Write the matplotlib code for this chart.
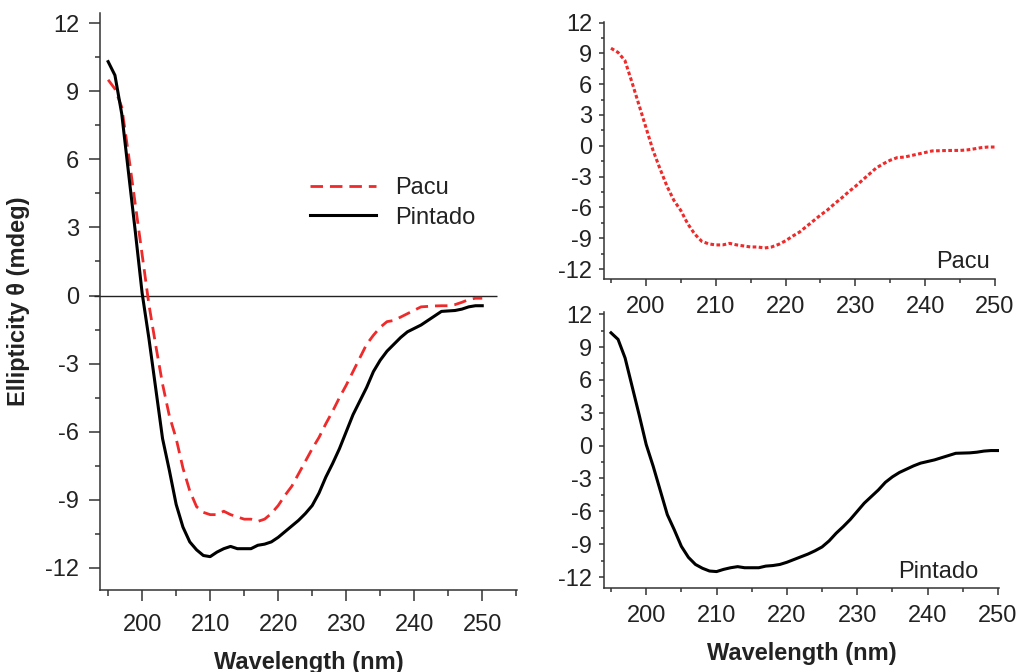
import matplotlib
matplotlib.use("Agg")
import matplotlib.pyplot as plt
from matplotlib.ticker import MultipleLocator

plt.rcParams['font.family'] = ['Liberation Sans', 'DejaVu Sans']
plt.rcParams['axes.unicode_minus'] = False

# CD spectra, 1 nm steps
wavelength = list(range(195, 251))
pacu = [9.5, 9.1, 8.3, 6.2, 4.0, 1.8, -0.4, -2.2, -3.9, -5.3,
        -6.3, -7.6, -8.6, -9.3, -9.55, -9.65, -9.65, -9.5, -9.65, -9.75,
        -9.85, -9.85, -9.95, -9.85, -9.6, -9.25, -8.8, -8.4, -7.85, -7.3,
        -6.75, -6.25, -5.65, -5.1, -4.5, -3.95, -3.35, -2.75, -2.15, -1.75,
        -1.4, -1.15, -1.1, -0.95, -0.8, -0.65, -0.5, -0.48, -0.46, -0.45,
        -0.45, -0.4, -0.3, -0.18, -0.12, -0.12]
pintado = [10.3, 9.7, 8.0, 5.4, 2.8, 0.1, -1.9, -4.1, -6.3, -7.7,
           -9.2, -10.2, -10.85, -11.2, -11.45, -11.5, -11.3, -11.15, -11.05, -11.15,
           -11.15, -11.15, -11.0, -10.95, -10.85, -10.65, -10.4, -10.15, -9.9, -9.6,
           -9.25, -8.7, -8.0, -7.4, -6.75, -6.0, -5.25, -4.65, -4.05, -3.35,
           -2.85, -2.45, -2.15, -1.85, -1.6, -1.45, -1.3, -1.1, -0.9, -0.7,
           -0.68, -0.66, -0.6, -0.5, -0.45, -0.45]

RED = '#ee2a2a'
INK = '#222222'
yticks = [-12, -9, -6, -3, 0, 3, 6, 9, 12]
xticks = [200, 210, 220, 230, 240, 250]


def style(ax, ymaj, ymin, xmaj, xmin, ypad, xpad):
    ax.set_facecolor('none')
    for s in ['top', 'right']:
        ax.spines[s].set_visible(False)
    for s in ['left', 'bottom']:
        ax.spines[s].set_linewidth(1.1)
        ax.spines[s].set_color('#333333')
    ax.set_yticks(yticks)
    ax.set_xticks(xticks)
    ax.yaxis.set_minor_locator(MultipleLocator(1.5))
    ax.xaxis.set_minor_locator(MultipleLocator(5))
    ax.tick_params(axis='y', which='major', length=ymaj, width=1.1, pad=ypad,
                   labelsize=17, colors='#333333', labelcolor=INK)
    ax.tick_params(axis='y', which='minor', length=ymin, width=1.1, colors='#333333')
    ax.tick_params(axis='x', which='major', length=xmaj, width=1.1, pad=xpad,
                   labelsize=17, colors='#333333', labelcolor=INK)
    ax.tick_params(axis='x', which='minor', length=xmin, width=1.1, colors='#333333')


fig = plt.figure(figsize=(10.17, 6.72), dpi=100)

# main panel
ax = fig.add_axes([0.0983, 0.122, 0.410, 0.8586])
ax.hlines(0, 192.9, 252.2, color=INK, lw=1.0, clip_on=False)
ax.plot(wavelength, pacu, color=RED, lw=2, dashes=(4.5, 2.5), label='Pacu')
ax.plot(wavelength, pintado, color='black', lw=2.2, label='Pintado')
ax.set_xlim(193.8, 255.1)
ax.set_ylim(-12.97, 12.44)
style(ax, 8, 3.6, 8, 4.5, 7, 9)
ax.set_ylabel('Ellipticity θ (mdeg)', fontsize=17, fontweight='bold', color=INK)
ax.yaxis.set_label_coords(-0.168, 0.5)
ax.set_xlabel('Wavelength (nm)', fontsize=17, fontweight='bold', color=INK)
ax.xaxis.set_label_coords(0.5, -0.105)
ax.legend(loc='center left', bbox_to_anchor=(0.5036, 0.6707), frameon=False,
          fontsize=17, handlelength=2.8, handletextpad=0.8, labelspacing=0.3,
          borderpad=0, borderaxespad=0, labelcolor=INK)

# Pacu panel
ax1 = fig.add_axes([0.5939, 0.5848, 0.3845, 0.3824])
ax1.plot(wavelength, pacu, color=RED, lw=2.2, dashes=(1.2, 0.8))
ax1.set_xlim(194, 250)
ax1.set_ylim(-12.97, 12.05)
style(ax1, 3.6, 2.2, 5, 3, 5, 7.5)
ax1.text(0.987, 0.043, 'Pacu', transform=ax1.transAxes, ha='right',
         va='baseline', fontsize=17, color=INK)

# Pintado panel
ax2 = fig.add_axes([0.5939, 0.125, 0.3884, 0.4107])
ax2.plot(wavelength, pintado, color='black', lw=2.2)
ax2.set_xlim(194, 250.15)
ax2.set_ylim(-13.0, 12.2)
style(ax2, 3.6, 2.2, 5, 3, 5, 7.5)
ax2.text(0.947, 0.036, 'Pintado', transform=ax2.transAxes, ha='right',
         va='baseline', fontsize=17, color=INK)
ax2.set_xlabel('Wavelength (nm)', fontsize=17, fontweight='bold', color=INK)
ax2.xaxis.set_label_coords(0.5, -0.195)

fig.savefig('out.png', dpi=100)
